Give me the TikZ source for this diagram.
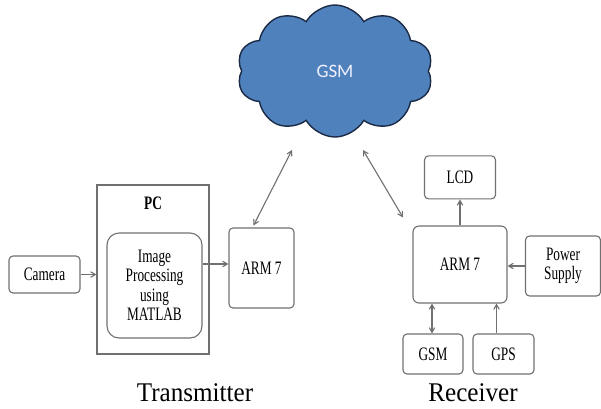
\documentclass[tikz,border=0pt]{standalone}
\usepackage{fontspec}
\setmainfont{Liberation Serif}[FakeStretch=0.7]
\newfontfamily\capfont{Liberation Serif}[FakeStretch=0.93]
\newfontfamily\cloudfont{Carlito}
\usetikzlibrary{arrows,shapes,shapes.symbols,positioning}
\definecolor{cloudblue}{HTML}{4F81BD}
\definecolor{cloudline}{HTML}{1B2A45}
\definecolor{boxline}{HTML}{707070}
\tikzset{
  every picture/.style = {
    x = 1pt,
    y = -1pt,
    >=angle 60,
  }
  ,
  block/.style = {
    rectangle,
    rounded corners = 4pt,
    draw = boxline,
    line width = 1.1pt,
    font = \fontsize{19}{19.5}\selectfont,
    align = center,
    inner sep = 0pt
  }
  , % links between blocks
  link/.style = {
    draw = boxline,
    line width = 1.1pt
  }
  , % captions under the two halves
  caption/.style = {
    font = \capfont\fontsize{27}{28}\selectfont
  }
}
\begin{document}
\begin{tikzpicture}
    \useasboundingbox (0,0) rectangle (601,408);

    % the network
    \node [cloud, cloud puffs = 10, cloud puff arc = 120, aspect = 1.6,
           draw = cloudline, line width = 1.4pt, fill = cloudblue,
           minimum width = 196pt, minimum height = 132pt,
           font = \cloudfont\fontsize{19}{20}\selectfont, text = blue!6]
        (net) at (335,71) {GSM};
    \coordinate (nl) at (292,150);
    \coordinate (nr) at (363,150);

    % transmitter side
    \node [block, minimum width = 71pt, minimum height = 37pt] (camera) at (44.5,274.5) {Camera};
    \node [block, rounded corners = 0pt, minimum width = 112pt, minimum height = 169pt] (pc) at (153,269.5) {};
    \node [font = \bfseries\fontsize{19}{19}\selectfont] (pclabel) at (153,203) {PC};
    \node [block, rounded corners = 12pt, minimum width = 95pt, minimum height = 105pt] (ip) at (154.5,285.5)
        {Image\\Processing\\using\\MATLAB};
    \node [block, minimum width = 65pt, minimum height = 80pt] (arml) at (261.5,268) {ARM 7};
    \node [caption] (tx) at (195,393) {Transmitter};

    % receiver side
    \node [block, rounded corners = 6pt, minimum width = 94pt, minimum height = 77pt] (armr) at (460,264.5) {ARM 7};
    \node [block, minimum width = 71pt, minimum height = 43pt, above = 26pt of armr] (lcd) {LCD};
    \node [block, minimum width = 75pt, minimum height = 60pt] (power) at (563,266) {Power\\Supply};
    \node [block, minimum width = 60pt, minimum height = 40pt] (gsm) at (433,354) {GSM};
    \node [block, minimum width = 61pt, minimum height = 40pt] (gps) at (503.5,354) {GPS};
    \node [caption] (rx) at (473,393) {Receiver};

    \path [link, ->] (camera.east) -- (camera.east -| pc.west);
    \path [link, ->] ([yshift=4pt]arml.west -| ip.east) -- ([yshift=4pt]arml.west);
    \path [link, <->] (nl) -- ([shift={(-8,-2)}]arml.north);
    \path [link, <->] (nr) -- ([shift={(-57,-8)}]armr.north);
    \path [link, ->] (armr.north) -- (lcd.south);
    \path [link, ->] (power.west) -- (power.west -| armr.east);
    \path [link, <->] ([xshift=-1pt]gsm.north) -- ([xshift=-1pt]gsm.north |- armr.south);
    \path [link, ->] ([xshift=-7pt]gps.north) -- ([xshift=-7pt]gps.north |- armr.south);
\end{tikzpicture}
\end{document}
